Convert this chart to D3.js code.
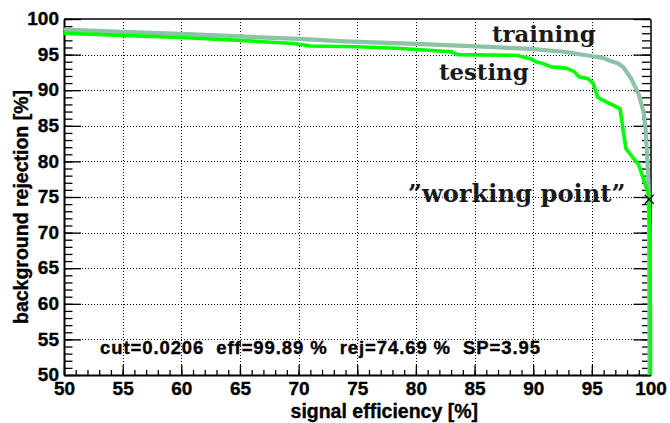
<!DOCTYPE html>
<html><head><meta charset="utf-8">
<script src="https://cdn.jsdelivr.net/npm/d3@7"></script>
<style>
body{margin:0;background:#fff}
svg{display:block}
.sans{font-family:"Liberation Sans",Arial,Helvetica,sans-serif;font-weight:bold;fill:#000;stroke:#000;stroke-width:0.35px}
.serif{font-family:"DejaVu Serif",serif;font-weight:bold;fill:#1a1a1a}
</style>
</head><body>
<svg id="c" width="670" height="423"></svg>
<script>
// ---- data ----
const trainEff = [50, 55, 60, 65, 70, 74, 80, 85.2, 89.8, 92.6, 94.9, 96.0, 96.6, 97.2, 97.7, 98.4, 99.0, 99.4, 99.6, 99.75, 99.85, 99.88, 99.9, 99.92];
const trainRej = [98.5, 98.2, 97.9, 97.55, 97.2, 96.85, 96.5, 96.15, 95.8, 95.4, 94.8, 94.5, 94.1, 93.8, 93.2, 91.5, 89.4, 87.0, 84.3, 79.6, 75.2, 70, 60, 50];
const testEff = [50, 55, 60, 65, 69.6, 71, 75, 78.4, 83.0, 83.6, 88.6, 89.8, 90.3, 90.9, 91.5, 92.8, 93.5, 93.9, 94.7, 95.1, 95.5, 95.8, 97.4, 97.9, 99.0, 99.85, 99.97, 100];
const testRej = [98.0, 97.7, 97.4, 97.0, 96.55, 96.2, 96.1, 95.9, 95.4, 95.0, 94.9, 94.4, 93.95, 93.7, 93.3, 93.1, 92.6, 91.9, 91.6, 91.0, 89.0, 88.7, 87.4, 81.8, 79.5, 75.3, 70, 50];
const xTicks = [50, 55, 60, 65, 70, 75, 80, 85, 90, 95, 100];
const yTicks = [50, 55, 60, 65, 70, 75, 80, 85, 90, 95, 100];
const xMinor = d3.range(50, 101, 1);
const yMinor = d3.range(50, 101, 1);
const workingPoint = {eff: 99.89, rej: 74.69};
const statsText = "cut=0.0206  eff=99.89 %  rej=74.69 %  SP=3.95";
const xTitle = "signal efficiency [%]";
const yTitle = "background rejection [%]";
const curveLabels = ["training", "testing", "\u201Dworking point\u201D"];

// ---- layout ----
const W = 670, H = 423;
const m = {left: 64, right: 19.5, top: 19, bottom: 48};
const svg = d3.select("#c");
const x = d3.scaleLinear().domain([50, 100]).range([m.left, W - m.right]);
const y = d3.scaleLinear().domain([50, 100]).range([H - m.bottom, m.top]);
const pw = W - m.left - m.right, ph = H - m.top - m.bottom;

svg.append("defs").append("clipPath").attr("id", "clip")
  .append("rect").attr("x", m.left).attr("y", m.top).attr("width", pw + 3).attr("height", ph);

// grid
const grid = svg.append("g").attr("stroke", "#000").attr("stroke-width", 1).attr("stroke-dasharray", "1,2");
grid.selectAll(".gx").data(xTicks.slice(1, -1)).join("line")
  .attr("x1", d => Math.round(x(d)) + 0.5).attr("x2", d => Math.round(x(d)) + 0.5)
  .attr("y1", m.top).attr("y2", H - m.bottom);
grid.selectAll(".gy").data(yTicks.slice(1, -1)).join("line")
  .attr("y1", d => Math.round(y(d)) + 0.5).attr("y2", d => Math.round(y(d)) + 0.5)
  .attr("x1", m.left).attr("x2", W - m.right);

// axes
function styleAxis(g) {
  g.selectAll("text").attr("class", "sans").style("font-size", "19px");
  g.selectAll("line").attr("stroke", "#000").attr("stroke-width", 1.3);
}
const axL = svg.append("g").attr("transform", `translate(${m.left},0)`)
  .call(d3.axisLeft(y).tickValues(yTicks).tickSize(-17).tickPadding(5).tickSizeOuter(0));
axL.select(".domain").attr("stroke-width", 2);
styleAxis(axL);
axL.selectAll("text").attr("dy", "0.3em");
svg.append("g").attr("transform", `translate(${m.left},0)`)
  .call(d3.axisLeft(y).tickValues(yMinor).tickSize(-8.5).tickFormat("").tickSizeOuter(0))
  .call(g => g.select(".domain").remove()).call(styleAxis);

const axR = svg.append("g").attr("transform", `translate(${W - m.right},0)`)
  .call(d3.axisRight(y).tickValues(yTicks).tickSize(-17).tickFormat("").tickSizeOuter(0));
axR.select(".domain").attr("stroke-width", 1.5);
styleAxis(axR);
svg.append("g").attr("transform", `translate(${W - m.right},0)`)
  .call(d3.axisRight(y).tickValues(yMinor).tickSize(-8.5).tickFormat("").tickSizeOuter(0))
  .call(g => g.select(".domain").remove()).call(styleAxis);

const axB = svg.append("g").attr("transform", `translate(0,${H - m.bottom})`)
  .call(d3.axisBottom(x).tickValues(xTicks).tickSize(-10).tickPadding(7).tickSizeOuter(0));
axB.select(".domain").attr("stroke-width", 2);
styleAxis(axB);
svg.append("g").attr("transform", `translate(0,${H - m.bottom})`)
  .call(d3.axisBottom(x).tickValues(xMinor).tickSize(-5).tickFormat("").tickSizeOuter(0))
  .call(g => g.select(".domain").remove()).call(styleAxis);

// top frame
svg.append("line").attr("x1", m.left).attr("x2", W - m.right).attr("y1", m.top).attr("y2", m.top)
  .attr("stroke", "#000").attr("stroke-width", 1.5);

// curves (drawn over the frame at the right edge like the reference)
const line = d3.line().x(d => x(d[0])).y(d => y(d[1]));
const plot = svg.append("g").attr("clip-path", "url(#clip)");
plot.append("path").datum(d3.zip(trainEff, trainRej))
  .attr("d", line).attr("fill", "none").attr("stroke", "#8cc2a6").attr("stroke-width", 4.2).attr("stroke-linejoin", "round");
plot.append("path").datum(d3.zip(testEff, testRej))
  .attr("d", line).attr("fill", "none").attr("stroke", "#00ff00").attr("stroke-width", 3.6).attr("stroke-linejoin", "round");

// working point marker
const wx = x(workingPoint.eff), wy = y(workingPoint.rej), s = 4.5;
svg.append("path").attr("d", `M${wx - s},${wy - s}L${wx + s},${wy + s}M${wx - s},${wy + s}L${wx + s},${wy - s}`)
  .attr("stroke", "#000").attr("stroke-width", 1.2);

// curve labels
svg.append("text").attr("class", "serif").attr("x", 492).attr("y", 42).style("font-size", "22.8px").text(curveLabels[0]);
svg.append("text").attr("class", "serif").attr("x", 439).attr("y", 80).style("font-size", "22.8px").text(curveLabels[1]);
svg.append("text").attr("class", "serif").attr("x", 408).attr("y", 202).style("font-size", "24.2px").text(curveLabels[2]);

// stats
svg.append("text").attr("class", "sans").attr("x", 100).attr("y", 354).style("font-size", "18.5px")
  .style("white-space", "pre").attr("textLength", 440).attr("lengthAdjust", "spacing").text(statsText);

// axis titles
svg.append("text").attr("class", "sans").attr("x", 478).attr("y", 418).attr("text-anchor", "end")
  .style("font-size", "19.5px").text(xTitle);
svg.append("text").attr("class", "sans").attr("transform", "translate(28,207) rotate(-90)")
  .attr("text-anchor", "middle").style("font-size", "19.5px").text(yTitle);
</script>
</body></html>
